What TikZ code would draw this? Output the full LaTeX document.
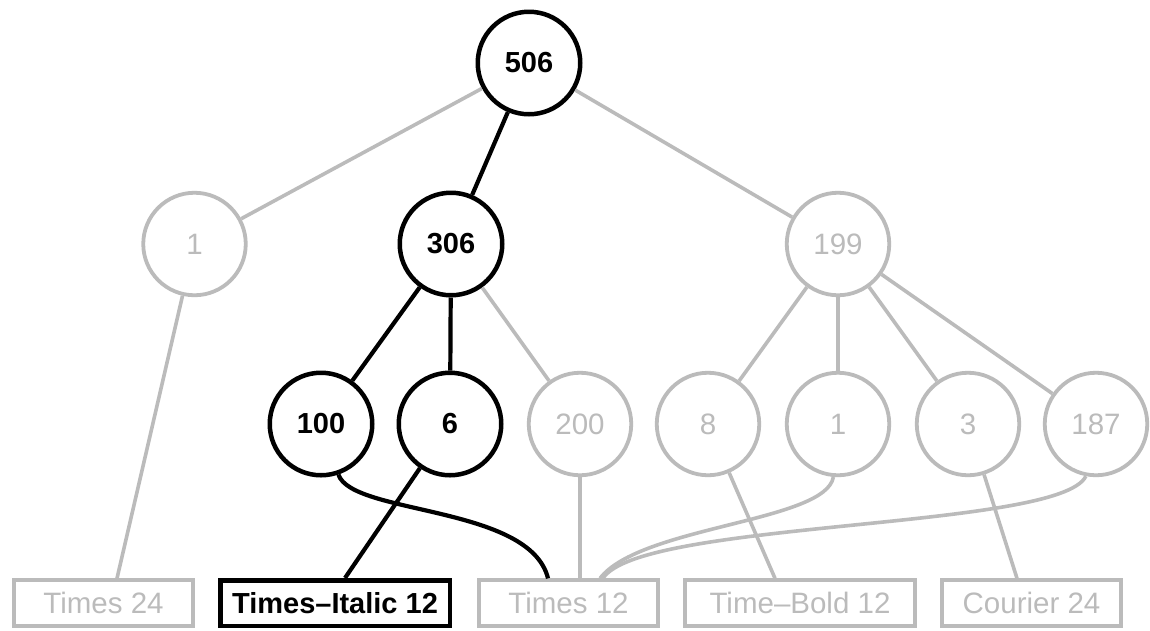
\documentclass[tikz,border=0pt]{standalone}
\usepackage{fontspec}
\setmainfont{Liberation Sans}
\definecolor{lg}{HTML}{BBBBBB}
\begin{document}
\begin{tikzpicture}[x=1pt,y=-1pt,
  cbase/.style={circle,minimum size=102.5pt,inner sep=0pt,fill=white},
  on/.style={cbase,draw=black,line width=4.5pt,font=\fontsize{29}{34}\selectfont\bfseries},
  off/.style={cbase,draw=lg,text=lg,line width=3.8pt,font=\fontsize{29.5}{34}\selectfont},
  bbase/.style={rectangle,minimum height=45.5pt,inner sep=0pt},
  bon/.style={bbase,draw=black,line width=4.5pt,font=\fontsize{29}{34}\selectfont\bfseries},
  boff/.style={bbase,draw=lg,text=lg,line width=3.8pt,font=\fontsize{29.5}{34}\selectfont},
  eon/.style={draw=black,line width=4.2pt},
  eoff/.style={draw=lg,line width=3.6pt}]
\useasboundingbox (0,0) rectangle (1150,630);

% nodes
\node[on]  (r) at (529,63)    {506};
\node[off] (a) at (194.5,244) {1};
\node[on]  (b) at (451,244)   {306};
\node[off] (c) at (838,244)   {199};
\node[on]  (d) at (321,424)   {100};
\node[on]  (e) at (450,424)   {6};
\node[off] (f) at (580,424)   {200};
\node[off] (g) at (708,424)   {8};
\node[off] (h) at (838,424)   {1};
\node[off] (i) at (968,424)   {3};
\node[off] (j) at (1096,424)  {187};

\node[boff,minimum width=179pt] (t24) at (103.5,603)  {Times 24};
\node[bon, minimum width=229.5pt] (ti)  at (335,603)    {Times–Italic 12};
\node[boff,minimum width=179pt] (t12) at (568.5,603)  {Times 12};
\node[boff,minimum width=230pt] (tb)  at (800,603)    {Time–Bold 12};
\node[boff,minimum width=179pt] (c24) at (1031.5,603) {Courier 24};

% gray connectors
\draw[eoff] (r) -- (a);
\draw[eoff] (r) -- (c);
\draw[eoff] (a) -- ([xshift=13.5pt]t24.north);
\draw[eoff] (b) -- (f);
\draw[eoff] (c) -- (g);
\draw[eoff] (c) -- (h);
\draw[eoff] (c) -- (i);
\draw[eoff] (c) -- (j);
\draw[eoff] (f) -- ([xshift=11.5pt]t12.north);
\draw[eoff] (g) -- ([xshift=-25pt]tb.north);
\draw[eoff] (i) -- ([xshift=-14.5pt]c24.north);
\draw[eoff] (h.-95) .. controls (826,522) and (640,526) .. ([xshift=31.5pt]t12.north);
\draw[eoff] (j.-101) .. controls (1060,530) and (640,520) .. ([xshift=34.5pt]t12.north);

% black connectors
\draw[eon] (r) -- (b);
\draw[eon] (b) -- (d);
\draw[eon] (b) -- (e);
\draw[eon] (e) -- ([xshift=10pt]ti.north);
\draw[eon] (d.-71) .. controls (352,515) and (530,505) .. ([xshift=-20.5pt]t12.north);
\end{tikzpicture}
\end{document}
